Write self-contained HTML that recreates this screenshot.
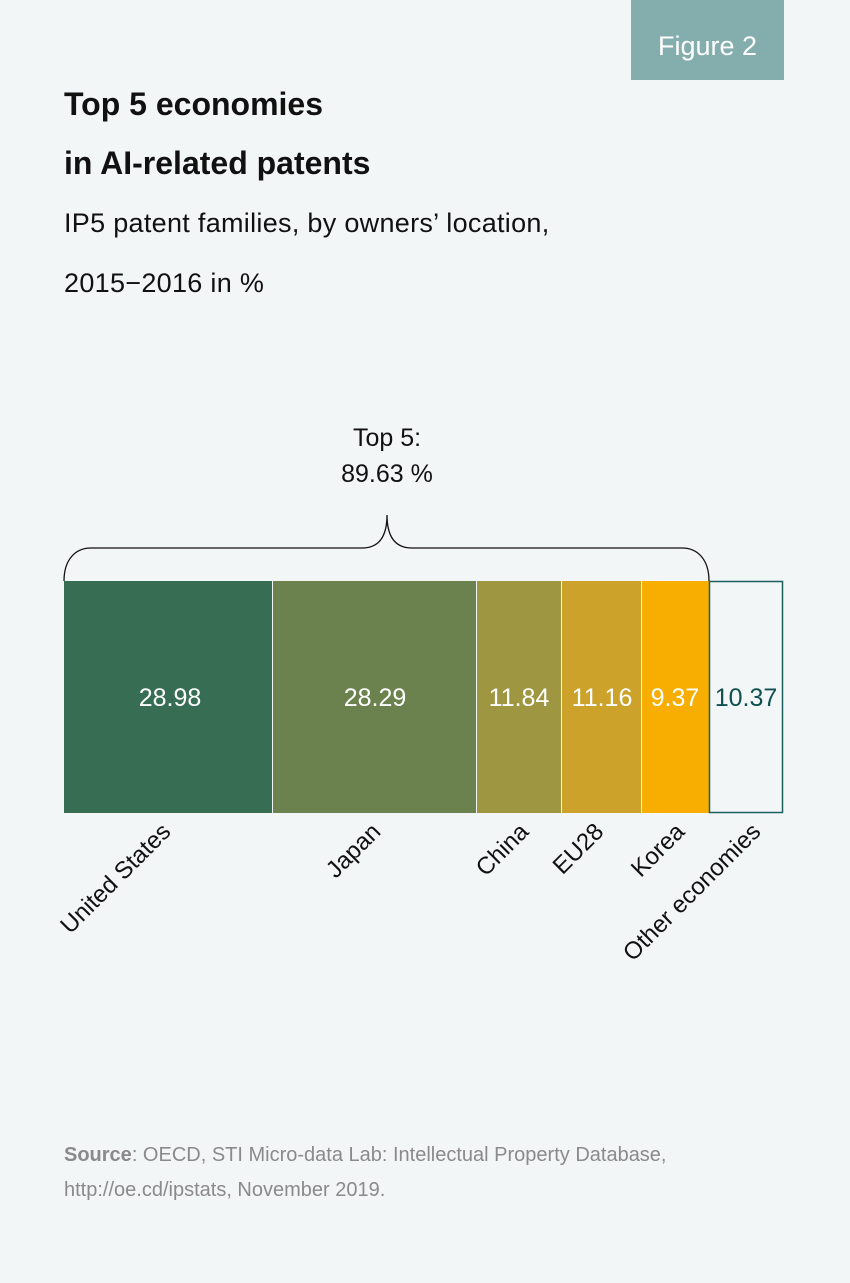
<!DOCTYPE html>
<html><head><meta charset="utf-8"><style>
body{margin:0;width:850px;height:1283px;background:#f3f6f7;font-family:"Liberation Sans","DejaVu Sans",sans-serif;position:relative;overflow:hidden}
.a{position:absolute;white-space:nowrap}
</style></head><body>
<div class="a" style="left:631px;top:0;width:153px;height:80px;background:#84aeae;color:#fff;font-size:27px;line-height:92px;text-align:center">Figure 2</div>
<div class="a" style="left:64px;top:75px;font-size:32px;font-weight:bold;line-height:59px;color:#111">Top 5 economies<br>in AI-related patents</div>
<div class="a" style="left:64px;top:193px;font-size:27px;line-height:60px;color:#111;letter-spacing:0.3px">IP5 patent families, by owners’ location,<br>2015−2016 in %</div>
<div class="a" style="left:300px;top:420px;width:174px;text-align:center;font-size:25px;line-height:36px;color:#111">Top 5:<br>89.63 %</div>
<svg class="a" style="left:0;top:0" width="850" height="1283">
<path d="M64,581 C64,560 75,548 91,548 L362,548 C380,548 387,535 387,515 C387,535 394,548 412,548 L682,548 C698,548 709,560 709,581" fill="none" stroke="#111" stroke-width="1.3"/>
<rect x="64" y="581" width="208" height="232" fill="#376e53"/>
<rect x="273" y="581" width="203" height="232" fill="#6b824e"/>
<rect x="477" y="581" width="84" height="232" fill="#9e9641"/>
<rect x="562" y="581" width="79" height="232" fill="#cca22a"/>
<rect x="642" y="581" width="67" height="232" fill="#f7ae00"/>
<rect x="709.5" y="581.5" width="73" height="231" fill="#f3f6f7" stroke="#1d5f5f" stroke-width="1.5"/>
<g font-size="25" text-anchor="middle" fill="#fff" font-family="Liberation Sans,sans-serif">
<text x="170" y="706">28.98</text><text x="375" y="706">28.29</text><text x="519" y="706">11.84</text><text x="602" y="706">11.16</text><text x="675" y="706">9.37</text><text x="746" y="706" fill="#0f5050">10.37</text>
</g>
<g font-size="24" text-anchor="end" fill="#111" font-family="Liberation Sans,sans-serif">
<text transform="translate(172,833) rotate(-45)">United States</text>
<text transform="translate(382,833) rotate(-45)">Japan</text>
<text transform="translate(530,833) rotate(-45)">China</text>
<text transform="translate(605,833) rotate(-45)">EU28</text>
<text transform="translate(686,833) rotate(-45)">Korea</text>
<text transform="translate(762,833) rotate(-45)">Other economies</text>
</g>
</svg>
<div class="a" style="left:64px;top:1138px;font-size:20px;line-height:35px;color:#8a8a8a"><b>Source</b>: OECD, STI Micro-data Lab: Intellectual Property Database,<br>http://oe.cd/ipstats, November 2019.</div>
</body></html>
